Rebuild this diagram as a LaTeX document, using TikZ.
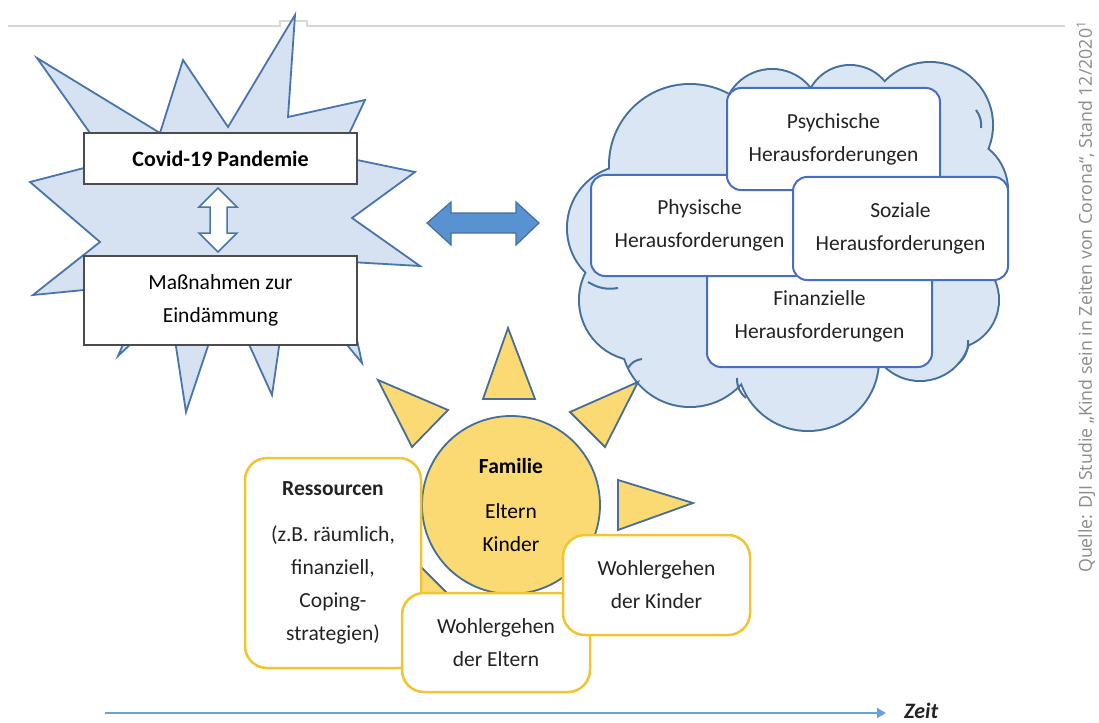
\documentclass[tikz,border=0pt]{standalone}
\usepackage{fontspec}
\setmainfont{Carlito}
\newfontfamily\srcfont{Open Sans}
\usetikzlibrary{arrows.meta}
\definecolor{starfill}{RGB}{214,225,242}
\definecolor{starline}{RGB}{72,118,172}
\definecolor{cloudfill}{RGB}{218,230,244}
\definecolor{cloudline}{RGB}{68,112,160}
\definecolor{boxblue}{RGB}{70,110,195}
\definecolor{arrowblue}{RGB}{88,146,208}
\definecolor{arrowline}{RGB}{65,113,160}
\definecolor{gold}{RGB}{251,218,115}
\definecolor{goldline}{RGB}{242,196,50}
\definecolor{sunline}{RGB}{70,110,150}
\definecolor{txt}{RGB}{35,35,35}
\definecolor{grayline}{RGB}{215,215,215}
\definecolor{srcgray}{RGB}{140,140,140}
\definecolor{timeblue}{RGB}{110,160,215}
\tikzset{
  covidbox/.style={draw=black!70, line width=1.4pt, fill=white, minimum width=273pt,
    inner sep=0pt, align=center, text=black, font=\fontsize{21.5}{33}\selectfont},
  cloudbox/.style={draw=boxblue, line width=2pt, fill=white, rounded corners=14pt,
    inner sep=0pt, align=center, text=txt, font=\fontsize{21.5}{33}\selectfont},
  goldbox/.style={draw=goldline, line width=2.5pt, fill=white, rounded corners=22pt,
    inner sep=0pt, align=center, text=txt, font=\fontsize{21.5}{33}\selectfont},
  ray/.style={draw=sunline, fill=gold, line width=1.8pt, line join=miter},
  startshape/.style={draw=starline, fill=starfill, line width=1.8pt, line join=miter},
  hollowarrow/.style={draw=starline, fill=white, line width=1.5pt, line join=miter},
  bluearrow/.style={draw=arrowline, fill=arrowblue, line width=1.2pt, line join=miter},
  timeline/.style={draw=timeblue, line width=2pt, -{Triangle[length=9pt,width=10pt]}},
  puffarc/.style={draw=cloudline, line width=2pt},
}
\begin{document}
\begin{tikzpicture}[x=1pt,y=-1pt]
\useasboundingbox (0,0) rectangle (1099,722);
\fill[white] (0,0) rectangle (1099,722);

% top rule
\draw[grayline, line width=2pt] (8,26) -- (280,26) -- (280,21) -- (307,21) -- (307,26) -- (1065,26);

% explosion star
\path[startshape] (37,58) -- (160,133) -- (183,60) -- (228,127) -- (295,15) -- (288,117)
  -- (365,100) -- (348,136) -- (357,160) -- (415,172) -- (352,218) -- (420,266) -- (350,262)
  -- (357,340) -- (362,363) -- (343,340) -- (280,340) -- (272,395) -- (247,340)
  -- (210,340) -- (186,412) -- (175,340) -- (135,340) -- (118,356) -- (125,340)
  -- (84,290) -- (33,295) -- (100,242) -- (30,182) -- (84,168) -- (90,133) -- cycle;

\node[covidbox, minimum height=51pt, font=\fontsize{22}{33}\selectfont\bfseries] (covid) at (220.5,158.5) {Covid-19 Pandemie};
\node[covidbox, minimum height=89pt] (mass) at (220.5,300.5) {Maßnahmen zur\\Eindämmung};

% hollow vertical double arrow
\path[hollowarrow] (218,188) -- (237,207) -- (227,207) -- (227,233) -- (237,233) -- (218,252)
  -- (199,233) -- (210,233) -- (210,207) -- (199,207) -- cycle;

% blue horizontal double arrow
\path[bluearrow] (427,223) -- (451,202) -- (451,213) -- (516,213) -- (516,202) -- (539,223)
  -- (516,245) -- (516,233) -- (451,233) -- (451,245) -- cycle;

% cloud: union of circles
\foreach \cx/\cy/\r in {630/228/62, 640/300/60, 690/338/68, 808/360/70, 920/330/50,
    950/300/48, 955/190/52, 930/125/62, 850/110/44, 772/118/48, 690/165/80, 790/240/140}
  \draw[cloudline, line width=4pt] (\cx,\cy) circle[radius=\r];
\foreach \cx/\cy/\r in {630/228/62, 640/300/60, 690/338/68, 808/360/70, 920/330/50,
    950/300/48, 955/190/52, 930/125/62, 850/110/44, 772/118/48, 690/165/80, 790/240/140}
  \fill[cloudfill] (\cx,\cy) circle[radius=\r];
% small inner puff arcs
\draw[puffarc] (588,282) to[bend right=20] (618,288);
\draw[puffarc] (628,368) to[bend left=25] (642,359);
\draw[puffarc] (737,378) to[bend right=25] (746,398);
\draw[puffarc] (976,110) to[bend left=20] (981,128);
\draw[puffarc] (958,364) to[bend right=25] (968,340);

\node[cloudbox, minimum width=225pt, minimum height=102pt] (fin) at (819.5,316) {Finanzielle\\Herausforderungen};
\node[cloudbox, minimum width=217pt, minimum height=101pt] (phys) at (699.5,225.5) {Physische\\Herausforderungen};
\node[cloudbox, minimum width=213pt, minimum height=102pt] (psych) at (833.5,139) {Psychische\\Herausforderungen};
\node[cloudbox, minimum width=215pt, minimum height=103pt] (soz) at (900.5,228.5) {Soziale\\Herausforderungen};

% sun rays
\path[ray] (508,328) -- (483,399) -- (535,399) -- cycle;
\path[ray] (378,380) -- (448,410) -- (412,447) -- cycle;
\path[ray] (638,382) -- (570,412) -- (605,447) -- cycle;
\path[ray] (618,480) -- (693,503) -- (618,530) -- cycle;
\path[ray] (404,480) -- (329,503) -- (404,530) -- cycle;
\path[ray] (509,682) -- (484,611) -- (536,611) -- cycle;
\path[ray] (644,630) -- (574,600) -- (610,563) -- cycle;
\path[ray] (384,628) -- (452,598) -- (417,563) -- cycle;

\node[circle, draw=sunline, fill=gold, line width=1.8pt, minimum size=178pt, inner sep=0pt,
  align=center, text=black, font=\fontsize{21.5}{33}\selectfont] (fam) at (511,505)
  {\textbf{Familie}\\[12pt]Eltern\\Kinder};

\node[goldbox, minimum width=176pt, minimum height=210pt] (res) at (333,563)
  {\textbf{Ressourcen}\\[13pt](z.B. räumlich,\\finanziell,\\Coping-\\strategien)};
\node[goldbox, minimum width=188pt, minimum height=99pt] (eltern) at (496,642.5) {Wohlergehen\\der Eltern};
\node[goldbox, minimum width=187pt, minimum height=100pt] (kinder) at (656.5,585) {Wohlergehen\\der Kinder};

% time axis
\coordinate (t0) at (105,713);
\coordinate (t1) at (886,713);
\node[anchor=west, inner sep=0pt, text=txt, font=\fontsize{22}{25}\selectfont\bfseries\itshape] (zeit) at (904,711) {Zeit};
\draw[timeline] (t0) -- (t1);

% source
\node[rotate=90, inner sep=0pt, text=srcgray, font=\srcfont\fontsize{17.8}{20}\selectfont] (src) at (1086,297)
  {Quelle: DJI Studie „Kind sein in Zeiten von Corona“, Stand 12/2020\textsuperscript{1}};
\end{tikzpicture}
\end{document}
